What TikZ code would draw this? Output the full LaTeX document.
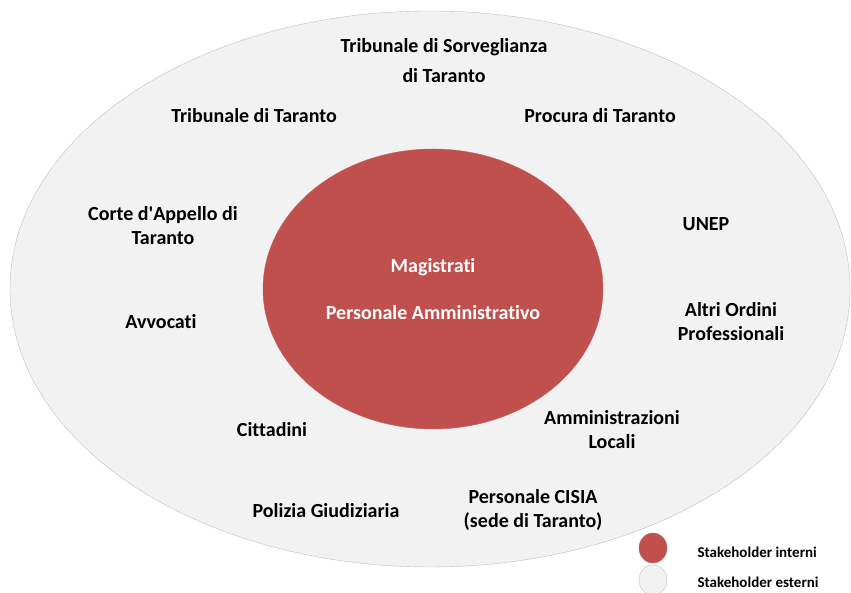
\documentclass[tikz,border=0pt]{standalone}
\usepackage{fontspec}
\setmainfont[Ligatures=NoCommon]{Carlito}
\usepackage{xcolor}
\usepackage{tikz}
\usetikzlibrary{positioning, calc}

\definecolor{redint}{HTML}{C0504D}
\definecolor{greyext}{HTML}{F2F2F2}
\definecolor{greyline}{HTML}{BFBFBF}

\tikzset{
    extlabel/.style={align=center, font=\fontsize{20}{24}\selectfont\bfseries},
    intlabel/.style={align=center, text=white, font=\fontsize{20}{24}\selectfont\bfseries},
    keylabel/.style={anchor=west, font=\fontsize{15}{18}\selectfont\bfseries},
}

\begin{document}
\begin{tikzpicture}[x=1pt, y=1pt]
        \useasboundingbox (0,0) rectangle (851,593);

        % stakeholder esterni / interni
        \draw[greyline, fill=greyext] (430,304) ellipse [x radius=420, y radius=278];
        \draw[redint!90!white, fill=redint] (433,304) ellipse [x radius=170, y radius=140];

        \node[intlabel] (magistrati) at (433,326) {Magistrati};
        \node[intlabel] (personale) at (433,280) {Personale Amministrativo};

        \node[extlabel] (sorveglianza) at (444,532) {Tribunale di Sorveglianza\\[6pt] di Taranto};
        \node[extlabel] (tribunale) at (254,477) {Tribunale di Taranto};
        \node[extlabel] (procura) at (600,477) {Procura di Taranto};
        \node[extlabel] (corte) at (163,367) {Corte d\textquotesingle Appello di\\ Taranto};
        \node[extlabel] (unep) at (706,369) {UNEP};
        \node[extlabel] (avvocati) at (161,271) {Avvocati};
        \node[extlabel] (ordini) at (731,271) {Altri Ordini\\ Professionali};
        \node[extlabel] (cittadini) at (272,163) {Cittadini};
        \node[extlabel] (amministrazioni) at (612,163) {Amministrazioni\\ Locali};
        \node[extlabel] (polizia) at (326,82) {Polizia Giudiziaria};
        \node[extlabel] (cisia) at (533,83) {Personale CISIA\\ (sede di Taranto)};

        % legenda
        \draw[redint!90!white, fill=redint] (653,45) ellipse [x radius=14, y radius=15];
        \draw[greyline, fill=greyext] (653,13) ellipse [x radius=14, y radius=15];
        \node[keylabel] (keyint) at (694,41) {Stakeholder interni};
        \node[keylabel] (keyext) at (694,11) {Stakeholder esterni};
    \end{tikzpicture}
\end{document}
